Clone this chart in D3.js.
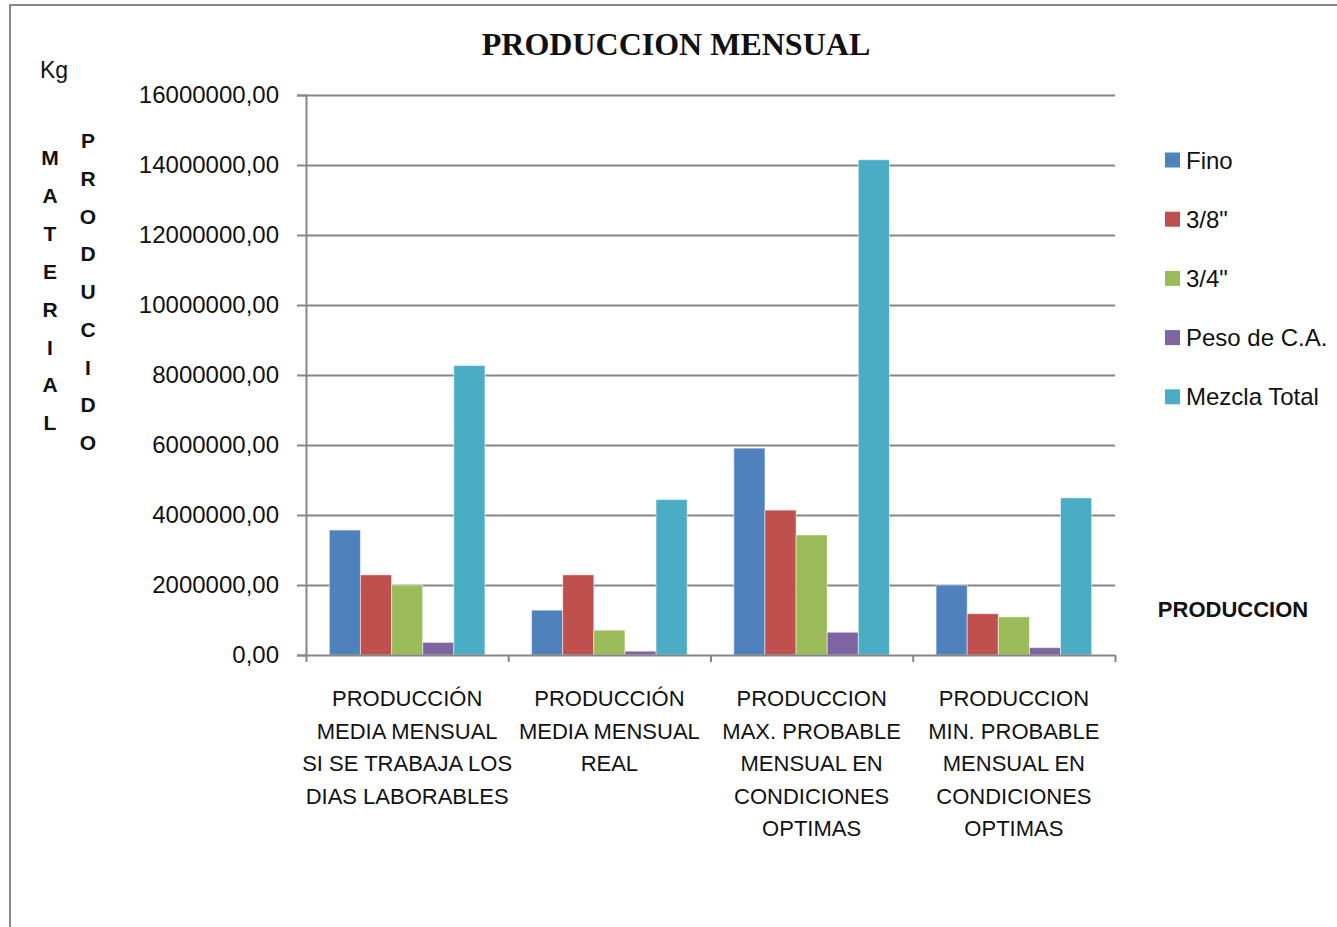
<!DOCTYPE html>
<html>
<head>
<meta charset="utf-8">
<script src="https://cdn.jsdelivr.net/npm/d3@7"></script>
<style>
  body { margin: 0; background: #fff; }
  svg { display: block; font-family: "Liberation Sans", Arial, sans-serif; }
</style>
</head>
<body>
<div id="chart"></div>
<script>
// categories (each label split into its printed lines)
const categories = [
  ["PRODUCCIÓN", "MEDIA MENSUAL", "SI SE TRABAJA LOS", "DIAS LABORABLES"],
  ["PRODUCCIÓN", "MEDIA MENSUAL", "REAL"],
  ["PRODUCCION", "MAX. PROBABLE", "MENSUAL EN", "CONDICIONES", "OPTIMAS"],
  ["PRODUCCION", "MIN. PROBABLE", "MENSUAL EN", "CONDICIONES", "OPTIMAS"]
];
const seriesNames = ["Fino", "3/8\"", "3/4\"", "Peso de C.A.", "Mezcla Total"];
const fino        = [3570000, 1280000, 5910000, 2000000];
const tresOctavos = [2290000, 2290000, 4140000, 1180000];
const tresCuartos = [2000000,  710000, 3430000, 1090000];
const pesoCA      = [ 360000,  110000,  650000,  210000];
const mezclaTotal = [8270000, 4440000, 14150000, 4490000];
const yTicks = [0, 2000000, 4000000, 6000000, 8000000, 10000000, 12000000, 14000000, 16000000];

const seriesValues = [fino, tresOctavos, tresCuartos, pesoCA, mezclaTotal];
const colors = ["#4F81BD", "#C0504D", "#9BBB59", "#8064A2", "#4BACC6"];

const W = 1337, H = 927;
const plot = { left: 306, right: 1115, top: 95, bottom: 655 };

const svg = d3.select("#chart").append("svg")
  .attr("width", W)
  .attr("height", H);

// outer chart border (runs off the page on right/bottom)
svg.append("rect")
  .attr("x", 10).attr("y", 5)
  .attr("width", W + 20).attr("height", H + 20)
  .attr("fill", "none")
  .attr("stroke", "#888")
  .attr("stroke-width", 2);

const y = d3.scaleLinear()
  .domain([0, 16000000])
  .range([plot.bottom, plot.top]);

const x0 = d3.scaleBand()
  .domain(d3.range(categories.length))
  .range([plot.left, plot.right])
  .paddingInner(0).paddingOuter(0);

// excel style gap width 150%
const barW = x0.bandwidth() / (seriesNames.length + 1.5);
const x1 = d3.scaleBand()
  .domain(d3.range(seriesNames.length))
  .range([barW * 0.75, barW * 0.75 + barW * seriesNames.length]);

const fmt = v => d3.format(".2f")(v).replace(".", ",");

// gridlines
svg.append("g")
  .attr("transform", `translate(${plot.left},0)`)
  .call(d3.axisLeft(y).tickValues(yTicks.slice(1)).tickSize(-(plot.right - plot.left)).tickFormat(""))
  .call(g => g.select(".domain").remove())
  .selectAll("line")
  .attr("stroke", "#868686")
  .attr("stroke-width", 2);

// bars
const groups = svg.append("g").selectAll("g")
  .data(categories)
  .join("g")
  .attr("transform", (d, i) => `translate(${x0(i)},0)`);

groups.selectAll("rect")
  .data((d, i) => seriesValues.map((vals, s) => ({ s, v: vals[i] })))
  .join("rect")
  .attr("x", d => x1(d.s))
  .attr("width", x1.bandwidth())
  .attr("y", d => y(d.v))
  .attr("height", d => y(0) - y(d.v))
  .attr("fill", d => colors[d.s])
  .attr("stroke", "#fff")
  .attr("stroke-opacity", 0.5)
  .attr("stroke-width", 1);

// y axis
const yAxis = svg.append("g")
  .attr("transform", `translate(${plot.left},0)`)
  .call(d3.axisLeft(y).tickValues(yTicks).tickSize(9).tickPadding(18).tickFormat(fmt));
yAxis.select(".domain").attr("stroke", "#868686").attr("stroke-width", 2);
yAxis.selectAll(".tick line").attr("stroke", "#868686").attr("stroke-width", 2);
yAxis.selectAll(".tick text")
  .attr("font-family", "Liberation Sans, Arial, sans-serif")
  .attr("font-size", 24)
  .attr("fill", "#111");

// x axis (ticks at category boundaries)
const xb = d3.scaleLinear().domain([0, categories.length]).range([plot.left, plot.right]);
const xAxis = svg.append("g")
  .attr("transform", `translate(0,${plot.bottom})`)
  .call(d3.axisBottom(xb).tickValues(d3.range(categories.length + 1)).tickSize(7).tickSizeOuter(0).tickFormat(""));
xAxis.select(".domain").attr("stroke", "#868686").attr("stroke-width", 2);
xAxis.selectAll(".tick line").attr("stroke", "#868686").attr("stroke-width", 2);

// category labels
svg.append("g").selectAll("text")
  .data(categories)
  .join("text")
  .attr("text-anchor", "middle")
  .attr("font-size", 22)
  .attr("fill", "#111")
  .each(function (lines, i) {
    d3.select(this).selectAll("tspan")
      .data(lines)
      .join("tspan")
      .attr("x", x0(i) + x0.bandwidth() / 2)
      .attr("y", (d, k) => 706 + k * 32.5)
      .text(d => d);
  });

// title
svg.append("text")
  .attr("x", 676).attr("y", 55)
  .attr("text-anchor", "middle")
  .attr("font-family", "Liberation Serif, 'Times New Roman', serif")
  .attr("font-weight", "bold")
  .attr("font-size", 32)
  .attr("fill", "#111")
  .text("PRODUCCION MENSUAL");

// unit and stacked axis titles
svg.append("text")
  .attr("x", 40).attr("y", 78)
  .attr("font-size", 23)
  .attr("fill", "#111")
  .text("Kg");

const stacked = (word, cx, cy0, step) => {
  svg.append("g").selectAll("text")
    .data(word.split(""))
    .join("text")
    .attr("x", cx)
    .attr("y", (d, k) => cy0 + k * step + 7)
    .attr("text-anchor", "middle")
    .attr("font-weight", "bold")
    .attr("font-size", 21)
    .attr("fill", "#111")
    .text(d => d);
};
stacked("MATERIAL", 50, 158, 37.9);
stacked("PRODUCIDO", 88, 141, 37.75);

// legend
const legend = svg.append("g").selectAll("g")
  .data(seriesNames)
  .join("g")
  .attr("transform", (d, i) => `translate(1165,${160 + i * 59.2})`);
legend.append("rect")
  .attr("x", 0).attr("y", -7.5)
  .attr("width", 15).attr("height", 15)
  .attr("fill", (d, i) => colors[i]);
legend.append("text")
  .attr("x", 21).attr("y", 8.5)
  .attr("font-size", 24)
  .attr("fill", "#111")
  .text(d => d);

// x axis title
svg.append("text")
  .attr("x", 1233).attr("y", 617)
  .attr("text-anchor", "middle")
  .attr("font-weight", "bold")
  .attr("font-size", 22)
  .attr("fill", "#111")
  .text("PRODUCCION");
</script>
</body>
</html>
